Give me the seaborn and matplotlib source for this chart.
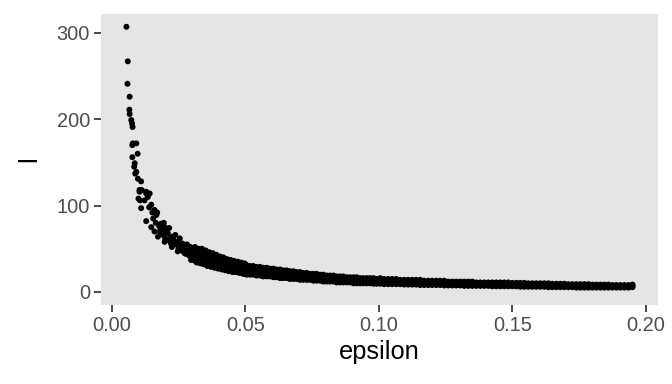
import matplotlib
matplotlib.use("Agg")
import matplotlib.pyplot as plt
import seaborn as sns
import pandas as pd

# Sparse upper part of the curve (read point by point)
eps_top = [0.0055, 0.0060, 0.0059, 0.0067, 0.0066, 0.0067, 0.0073, 0.0078, 0.0076, 0.0077,
           0.0079, 0.0092, 0.0097, 0.0077, 0.0086, 0.0084, 0.0092, 0.0088, 0.0098, 0.0110,
           0.0104, 0.0112, 0.0129, 0.0142, 0.0100, 0.0104, 0.0129, 0.0106, 0.0123, 0.0148,
           0.0160, 0.0110, 0.0167, 0.0129, 0.0185, 0.0198, 0.0148, 0.0160, 0.0173, 0.0210,
           0.0229, 0.0198, 0.0222, 0.0260, 0.0247, 0.0272, 0.0297, 0.0297,
           0.0135, 0.0140, 0.0152, 0.0155, 0.0165, 0.0170, 0.0178, 0.0180, 0.0188, 0.0192,
           0.0195, 0.0200, 0.0205, 0.0212, 0.0215, 0.0220, 0.0225, 0.0232, 0.0238, 0.0240,
           0.0245, 0.0250, 0.0255, 0.0262, 0.0265, 0.0270, 0.0278, 0.0282, 0.0285, 0.0290,
           0.0295, 0.0300]
l_top = [307, 267, 241, 226, 211, 206, 199, 191, 195, 170,
         172, 172, 160, 156, 149, 145, 139, 137, 131, 128,
         118, 118, 116, 114, 108, 116, 114, 106, 106, 101,
         95, 97, 89, 82, 79, 75, 75, 70, 64, 68,
         64, 58, 56, 54, 47, 45, 37, 49,
         110, 98, 92, 85, 80, 92, 76, 70, 72, 66,
         80, 62, 70, 60, 74, 64, 52, 60, 66, 55,
         58, 50, 62, 48, 56, 52, 44, 55, 48, 42,
         52, 44]

# Dense band: upper, middle and lower edge read at each epsilon
eps_band = [0.0305, 0.0312, 0.0318, 0.0325, 0.0332, 0.0338, 0.0345, 0.0352, 0.0358, 0.0365,
            0.0372, 0.0378, 0.0385, 0.0392, 0.0398, 0.0405, 0.0412, 0.0418, 0.0425, 0.0432,
            0.0438, 0.0445, 0.0452, 0.0458, 0.0465, 0.0472, 0.0478, 0.0485, 0.0492, 0.0498,
            0.0505, 0.0518, 0.0530, 0.0542, 0.0555, 0.0567, 0.0580, 0.0592, 0.0605, 0.0617,
            0.0630, 0.0642, 0.0655, 0.0667, 0.0680, 0.0692, 0.0705, 0.0717, 0.0730, 0.0742,
            0.0755, 0.0767, 0.0780, 0.0792, 0.0805, 0.0817, 0.0830, 0.0842, 0.0855, 0.0867,
            0.0880, 0.0892, 0.0905, 0.0917, 0.0930, 0.0942, 0.0955, 0.0967, 0.0980, 0.0992,
            0.1005, 0.1020, 0.1035, 0.1050, 0.1065, 0.1080, 0.1095, 0.1110, 0.1125, 0.1140,
            0.1155, 0.1170, 0.1185, 0.1200, 0.1215, 0.1230, 0.1245, 0.1260, 0.1275, 0.1290,
            0.1305, 0.1320, 0.1335, 0.1350, 0.1365, 0.1380, 0.1395, 0.1410, 0.1425, 0.1440,
            0.1455, 0.1470, 0.1485, 0.1500, 0.1515, 0.1530, 0.1545, 0.1560, 0.1575, 0.1590,
            0.1605, 0.1620, 0.1635, 0.1650, 0.1665, 0.1680, 0.1695, 0.1710, 0.1725, 0.1740,
            0.1755, 0.1770, 0.1785, 0.1800, 0.1815, 0.1830, 0.1845, 0.1860, 0.1875, 0.1890,
            0.1905, 0.1920, 0.1935, 0.1950]
l_hi = [49, 52, 47, 50, 47, 50, 45, 48, 43, 46,
        43, 45, 41, 43, 40, 41, 39, 40, 37, 38,
        36, 37, 35, 36, 34, 35, 33, 34, 32, 33,
        31, 30, 30, 29, 29, 28, 28, 27, 27, 26,
        26, 25, 25, 24, 24, 23, 23, 22, 22, 21,
        21, 21, 20, 20, 19, 19, 19, 18, 18, 18,
        17, 17, 17, 17, 16, 16, 16, 16, 16, 15,
        16, 15, 15, 15, 15, 14, 14, 14, 14, 14,
        14, 13, 13, 13, 13, 13, 13, 12, 12, 12,
        12, 12, 12, 12, 11, 11, 11, 11, 11, 11,
        11, 11, 11, 10.5, 10.5, 10.5, 10.5, 10, 10, 10,
        10, 10, 10, 9.5, 9.5, 9.5, 9.5, 9, 9, 9,
        9, 9, 9, 8.5, 8.5, 8.5, 8.5, 8.5, 8, 8,
        8, 8, 8, 8.5]
l_mid = [43, 44, 39, 43, 39, 43, 37, 40, 35, 39,
         35, 37, 33, 36, 32, 34, 31, 33, 30, 32,
         29, 31, 28, 30, 28, 29, 27, 28, 26, 27,
         26, 24, 25, 23, 24, 23, 23, 22, 22, 21,
         21, 20, 20, 19, 19, 18, 19, 17, 18, 17,
         17, 16, 16, 16, 16, 15, 15, 15, 15, 14,
         14, 14, 14, 13, 13, 13, 13, 12, 12, 12,
         12, 12, 11.5, 12, 11.5, 11.5, 11.5, 11.5, 10.5, 11,
         10.5, 10.5, 10.5, 10, 10.5, 10, 10, 9.5, 10, 9.5,
         9.5, 9, 9, 9, 9, 9, 9, 8.5, 9, 8,
         8.5, 8, 8, 8, 8, 8, 8, 8, 8, 8,
         7.5, 8, 7.5, 7.5, 7.5, 7.3, 7.3, 7.3, 7, 7,
         7, 7, 7, 6.8, 7, 6.5, 6.8, 6.5, 6.5, 6.5,
         6.3, 6.5, 6.5, 6.8]
l_lo = [37, 36, 34, 37, 33, 35, 32, 33, 30, 32,
        29, 30, 28, 29, 27, 28, 26, 27, 25, 26,
        24, 25, 23, 24, 23, 23, 22, 22, 21, 21,
        20, 20, 20, 19, 19, 18, 18, 18, 17, 17,
        16, 16, 16, 15, 15, 15, 14, 14, 14, 14,
        13, 13, 13, 12, 12, 12, 12, 11, 11, 11,
        11, 11, 10, 10, 10, 10, 10, 10, 9.5, 9.5,
        9.5, 9, 9, 9, 9, 9, 8.5, 8.5, 8.5, 8.5,
        8, 8, 8, 8, 8, 8, 7.5, 7.5, 7.5, 7.5,
        7.5, 7, 7, 7, 7, 7, 7, 7, 6.5, 6.5,
        6.5, 6.5, 6.5, 6.5, 6.5, 6, 6, 6, 6, 6,
        6, 6, 5.5, 5.5, 5.5, 5.5, 5.5, 5.5, 5.5, 5,
        5, 5, 5, 5, 5, 5, 5, 5, 5, 5,
        5, 5, 5, 5.5]

x_ticks = [0.00, 0.05, 0.10, 0.15, 0.20]
x_tick_labels = ["0.00", "0.05", "0.10", "0.15", "0.20"]
y_ticks = [0, 100, 200, 300]
y_tick_labels = ["0", "100", "200", "300"]

df = pd.DataFrame({
    "epsilon": eps_top + eps_band * 3,
    "l": l_top + l_hi + l_mid + l_lo,
})

sns.set_theme(style="dark")
plt.rcParams["font.family"] = ["Liberation Sans", "DejaVu Sans"]

fig = plt.figure(figsize=(7, 4), dpi=96)
ax = fig.add_axes([0.150, 0.206, 0.829, 0.758])
sns.scatterplot(data=df, x="epsilon", y="l", ax=ax, color="black", s=20,
                edgecolor="none", linewidth=0)

ax.set_facecolor("#E5E5E5")
ax.grid(False)
for sp in ax.spines.values():
    sp.set_visible(False)

ax.set_xlim(-0.0041, 0.2045)
ax.set_ylim(-15, 322)
ax.set_xticks(x_ticks)
ax.set_xticklabels(x_tick_labels)
ax.set_yticks(y_ticks)
ax.set_yticklabels(y_tick_labels)
ax.tick_params(axis="both", which="major", length=5, width=1.3, color="#333333",
               labelcolor="#4D4D4D", labelsize=15, pad=3, direction="out",
               bottom=True, left=True)
ax.set_xlabel("epsilon", fontsize=19, color="black", labelpad=4)
ax.set_ylabel("l", fontsize=19, color="black", labelpad=12)

fig.patch.set_facecolor("white")
fig.savefig("out.png", dpi=96, facecolor="white")
